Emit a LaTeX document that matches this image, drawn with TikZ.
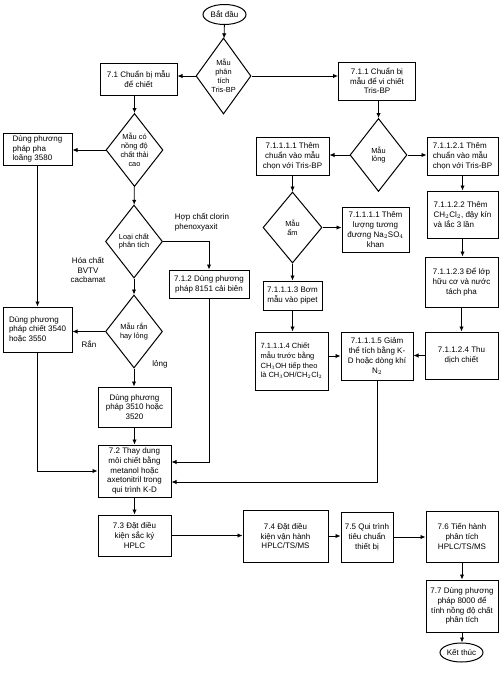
\documentclass[tikz,border=0pt]{standalone}
\usepackage{fontspec}
\setmainfont{Liberation Sans}
\usetikzlibrary{arrows.meta,positioning,shapes.geometric}

\begin{document}
\begin{tikzpicture}[
    x=1pt,y=-1pt,
    box/.style={draw,line width=1pt,inner sep=2pt,align=center,font=\fontsize{8}{9.8}\selectfont},
    lbox/.style={box,align=left},
    dia/.style={draw,diamond,line width=1pt,shape aspect=0.78,inner sep=0pt,minimum width=57pt,minimum height=73pt,align=center,font=\fontsize{7.4}{8.8}\selectfont},
    term/.style={draw,ellipse,line width=1pt,inner sep=0pt,minimum width=43pt,minimum height=20pt,font=\fontsize{8}{9.8}\selectfont},
    note/.style={align=center,font=\fontsize{8}{9.8}\selectfont},
    arr/.style={-{Latex[length=5pt,width=4.5pt]},line width=0.9pt}
  ]
    \useasboundingbox (0,0) rectangle (499,673);
    % start and first decision
    \node[term] (start) at (224.5,14.5) {Bắt đầu};
    \node[dia,minimum width=55pt,minimum height=76pt] (tris) at (223.5,76) {Mẫu\\phân\\tích\\Tris-BP};
    \node[box,minimum width=77pt,minimum height=32pt] (prep) at (138.5,79) {7.1 Chuẩn bị mẫu\\để chiết};
    \node[box,minimum width=77pt,minimum height=38pt] (micro) at (377,81) {7.1.1 Chuẩn bị\\mẫu để vi chiết\\Tris-BP};
    % left branch
    \node[dia] (conc) at (134.5,150) {Mẫu có\\nồng độ\\chất thải\\cao};
    \node[lbox,minimum width=69pt,minimum height=32pt] (dilute) at (37.5,149) {Dùng phương\\pháp pha\\loãng 3580};
    \node[dia] (kind) at (134,241.5) {Loại chất\\phân tích};
    \node[box,minimum width=80pt,minimum height=28pt] (m8151) at (209,284) {7.1.2 Dùng phương\\pháp 8151 cải biên};
    \node[dia] (phase) at (134,331.5) {Mẫu rắn\\hay lỏng};
    \node[lbox,minimum width=69pt,minimum height=45pt] (m3540) at (37.5,329.5) {Dùng phương\\pháp chiết 3540\\hoặc 3550};
    \node[box,minimum width=73pt,minimum height=40pt] (m3510) at (134.5,407) {Dùng phương\\pháp 3510 hoặc\\3520};
    \node[box,minimum width=73pt,minimum height=52pt] (solv) at (134.5,471) {7.2 Thay dung\\môi chiết bằng\\metanol hoặc\\axetonitril trong\\qui trình K-D};
    \node[box,minimum width=73pt,minimum height=41pt] (hplc) at (134.5,535.5) {7.3 Đặt điều\\kiện sắc ký\\HPLC};
    % bottom row
    \node[box,minimum width=85pt,minimum height=52pt] (oper) at (285.5,536) {7.4 Đặt điều\\kiện vận hành\\HPLC/TS/MS};
    \node[box,minimum width=52pt,minimum height=50pt] (std) at (367,537) {7.5 Qui trình\\tiêu chuẩn\\thiết bị};
    \node[box,minimum width=72pt,minimum height=51pt] (run) at (462,536.5) {7.6 Tiến hành\\phân tích\\HPLC/TS/MS};
    \node[box,minimum width=72pt,minimum height=52pt] (calc) at (462,606) {7.7 Dùng phương\\pháp 8000 để\\tính nồng độ chất\\phân tích};
    \node[term,minimum height=19pt] (stop) at (461.5,652.5) {Kết thúc};
    % right branch
    \node[dia] (liq) at (378.5,155) {Mẫu\\lỏng};
    \node[box,minimum width=73pt,minimum height=38pt] (addA) at (292.5,156) {7.1.1.1.1 Thêm\\chuẩn vào mẫu\\chọn với Tris-BP};
    \node[lbox,minimum width=71pt,minimum height=38pt] (addB) at (462.5,156) {7.1.1.2.1 Thêm\\chuẩn vào mẫu\\chọn với Tris-BP};
    \node[dia,minimum width=59pt,minimum height=71pt] (wet) at (292.5,227.5) {Mẫu\\ẩm};
    \node[box,minimum width=67pt,minimum height=45pt] (sulf) at (375.5,229.5) {7.1.1.1.1 Thêm\\lượng tương\\đương Na$_2$SO$_4$\\khan};
    \node[box,minimum width=59pt,minimum height=29pt] (pump) at (292.5,295.5) {7.1.1.1.3 Bơm\\mẫu vào pipet};
    \node[lbox,minimum width=73pt,minimum height=58pt,font=\fontsize{7.5}{9.6}\selectfont] (elute) at (291.5,361) {7.1.1.1.4 Chiết\\mẫu trước bằng\\CH$_3$OH tiếp theo\\là CH$_3$OH/CH$_2$Cl$_2$};
    \node[box,minimum width=72pt,minimum height=48pt] (reduce) at (377,356) {7.1.1.1.5 Giảm\\thể tích bằng K-\\D hoặc dòng khí\\N$_2$};
    \node[lbox,minimum width=71pt,minimum height=47pt] (shake) at (462.5,214.5) {7.1.1.2.2 Thêm\\CH$_2$Cl$_2$, đậy kín\\và lắc 3 lần};
    \node[box,minimum width=73pt,minimum height=50pt] (sep) at (461.5,282) {7.1.1.2.3 Để lớp\\hữu cơ và nước\\tách pha};
    \node[box,minimum width=73pt,minimum height=47pt] (coll) at (461.5,355.5) {7.1.1.2.4 Thu\\dịch chiết};
    % branch labels
    \node[note,align=left] (lchlor) at (202,222) {Hợp chất clorin\\phenoxyaxit};
    \node[note] (lcarb) at (88,270) {Hóa chất\\BVTV\\cacbamat};
    \node[note] (lsolid) at (89,344) {Rắn};
    \node[note] (lliq) at (160,364) {lỏng};
    % connectors
    \draw[arr] (start) -- (tris);
    \draw[arr] (tris.west) -- (tris.west -| prep.east);
    \draw[arr] (tris.east) -- (tris.east -| micro.west);
    \draw[arr] (conc.north |- prep.south) -- (conc.north);
    \draw[arr] (conc.west) -- (conc.west -| dilute.east);
    \draw[arr] (dilute) -- (m3540);
    \draw[arr] (conc) -- (kind);
    \draw[arr] (kind.east) -| (m8151.north);
    \draw[arr] (kind) -- (phase);
    \draw[arr] (phase.west) -- (phase.west -| m3540.east);
    \draw[arr] (phase.south) -- (phase.south |- m3510.north);
    \draw[arr] (m3510) -- (solv);
    \draw[arr] (m3540.south) |- (solv.west);
    \draw[arr] (m8151.south) |- ([yshift=9pt]solv.east);
    \draw[arr] (reduce.south) |- ([yshift=-11pt]solv.east);
    \draw[arr] (solv) -- (hplc);
    \draw[arr] (hplc.east) -- (hplc.east -| oper.west);
    \draw[arr] (oper.east) -- (oper.east -| std.west);
    \draw[arr] (std.east) -- (std.east -| run.west);
    \draw[arr] (run) -- (calc);
    \draw[arr] (calc.south) -- (calc.south |- stop.north);
    \draw[arr] (liq.north |- micro.south) -- (liq.north);
    \draw[arr] (liq.west) -- (liq.west -| addA.east);
    \draw[arr] (liq.east) -- (liq.east -| addB.west);
    \draw[arr] (addA) -- (wet);
    \draw[arr] (wet.east) -- (wet.east -| sulf.west);
    \draw[arr] (wet) -- (pump);
    \draw[arr] (pump) -- (pump.south |- elute.north);
    \draw[arr] (reduce.west -| elute.east) -- (reduce.west);
    \draw[arr] (addB) -- (addB.south |- shake.north);
    \draw[arr] (shake.south) -- (shake.south |- sep.north);
    \draw[arr] (sep.south) -- (sep.south |- coll.north);
    \draw[arr] (coll.west) -- (coll.west -| reduce.east);
  \end{tikzpicture}
\end{document}
